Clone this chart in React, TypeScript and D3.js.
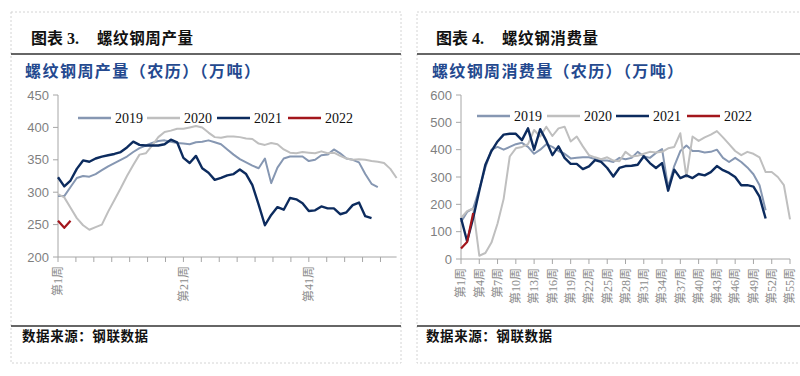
import React from "react";
import * as d3 from "d3";

// ---------- data ----------
const prodYears = ["2019", "2020", "2021", "2022"];
const prod2019 = [294,294,308,322,325,324,328,334,340,345,350,355,362,368,372,376,379,380,378,376,375,374,377,378,380,377,374,366,358,351,346,341,337,352,314,338,352,355,355,355,348,350,357,358,366,360,352,350,346,328,313,308];
const prod2020 = [297,292,276,260,249,242,246,250,270,288,306,325,342,358,360,372,385,393,395,398,398,400,402,400,392,385,384,386,386,385,383,382,375,373,376,374,366,361,360,362,361,360,363,360,361,356,352,350,351,350,348,347,345,336,322];
const prod2021 = [323,309,318,336,349,347,352,355,357,359,362,369,378,373,372,372,372,374,381,377,353,345,356,337,330,319,322,326,328,335,328,311,281,249,265,277,273,291,289,283,271,272,278,275,275,266,269,280,284,263,260];
const prod2022 = [256,245,256];

const cons2019 = [135,172,185,255,335,400,410,400,410,420,425,410,385,400,420,410,395,385,368,370,372,372,366,360,360,355,370,365,370,392,376,370,388,402,262,340,395,415,395,395,390,392,400,370,355,370,355,335,310,270,178];
const cons2020 = [150,175,185,12,22,60,130,220,375,405,410,420,472,448,484,450,478,484,430,448,412,380,372,365,372,360,358,392,375,378,385,392,390,392,405,410,460,300,448,432,445,455,468,445,420,395,380,392,385,372,318,318,300,270,145];
const cons2021 = [150,65,150,250,345,395,430,455,458,458,435,478,400,475,432,380,412,370,348,348,329,339,362,355,333,302,333,340,341,345,376,351,333,351,250,327,296,306,296,311,306,318,340,325,315,300,270,270,265,228,148];
const cons2022 = [38,62,168];

const prodYTicks = [200, 250, 300, 350, 400, 450];
const consYTicks = [0, 100, 200, 300, 400, 500, 600];
const prodXLabels = [1, 21, 41];
const consXLabels = d3.range(1, 56, 3);
const prodXTicks = d3.range(19).map((k) => 1 + (k * 20) / 7);

const seriesColors = ["#8697B2", "#BFBFBF", "#0C2B5E", "#A3161C"];
const seriesWidths = [2, 2, 2.4, 2.2];

const serif = "'Liberation Serif','Noto Sans CJK SC',serif";
const cjk = "'Noto Sans CJK SC','Liberation Serif',serif";
const sans = "'Liberation Sans',Arial,sans-serif";

type PanelProps = {
  left: number;
  right: number;
  titleNo: string;
  titleNoX: number;
  title: string;
  titleX: number;
  subtitle: string;
  subtitleX: number;
  subtitleW: number;
  sourceX: number;
  series: number[][];
  x: d3.ScaleLinear<number, number>;
  y: d3.ScaleLinear<number, number>;
  yTicks: number[];
  xTicks: number[];
  xLabels: number[];
  legendX: number[];
  legendY: number;
};

function Panel(p: PanelProps) {
  const [x0, x1] = p.x.range();
  const [y0, y1] = p.y.range();
  const line = (arr: number[]) =>
    d3
      .line<number>()
      .x((_, i) => p.x(i + 1))
      .y((d) => p.y(d))(arr) || "";
  const axisColor = "#A6A6A6";
  return (
    <g>
      {/* frame */}
      <rect x={p.left} y={12} width={p.right - p.left} height={351} fill="none" stroke="#D4D4D4" strokeDasharray="2,2" />
      {/* title */}
      <text x={p.titleNoX} y={44} fontFamily={serif} fontWeight="bold" fontSize={16} fill="#111">{p.titleNo}</text>
      <text x={p.titleX} y={44} fontFamily={cjk} fontWeight="bold" fontSize={15.5} fill="#111" textLength={96} lengthAdjust="spacing">{p.title}</text>
      <line x1={p.left} x2={p.right} y1={54} y2={54} stroke="#333" strokeWidth={1.5} />
      <text x={p.subtitleX} y={77} fontFamily={cjk} fontWeight="bold" fontSize={16} fill="#24498F" textLength={p.subtitleW} lengthAdjust="spacing">{p.subtitle}</text>
      {/* y axis */}
      <line x1={x0} x2={x0} y1={y1} y2={y0} stroke={axisColor} />
      {p.yTicks.map((t) => (
        <g key={"y" + t}>
          <line x1={x0 - 5} x2={x0} y1={p.y(t)} y2={p.y(t)} stroke={axisColor} />
          <text x={x0 - 9} y={p.y(t)} dy="0.36em" textAnchor="end" fontFamily={sans} fontSize={13} fill="#7F7F7F">{t}</text>
        </g>
      ))}
      {/* x axis */}
      <line x1={x0} x2={x1} y1={y0} y2={y0} stroke={axisColor} />
      {p.xTicks.map((t, i) => (
        <line key={"xt" + i} x1={p.x(t)} x2={p.x(t)} y1={y0} y2={y0 + 5} stroke={axisColor} />
      ))}
      {p.xLabels.map((t) => (
        <text key={"xl" + t} transform={`translate(${p.x(t)},${y0 + 9}) rotate(-90)`} dy="0.36em" textAnchor="end" fontFamily={serif} fontSize={12} fill="#8C8C8C">{`第${t}周`}</text>
      ))}
      {/* series */}
      {p.series.map((s, i) => (
        <path key={"s" + i} d={line(s)} fill="none" stroke={seriesColors[i]} strokeWidth={seriesWidths[i]} strokeLinejoin="round" />
      ))}
      {/* legend */}
      {prodYears.map((yr, i) => (
        <g key={"lg" + yr}>
          <line x1={p.legendX[i]} x2={p.legendX[i] + 33} y1={p.legendY} y2={p.legendY} stroke={seriesColors[i]} strokeWidth={2.5} />
          <text x={p.legendX[i] + 37} y={p.legendY} dy="0.35em" fontFamily={serif} fontSize={14} fill="#111">{yr}</text>
        </g>
      ))}
      {/* source */}
      <line x1={p.left} x2={p.right} y1={326} y2={326} stroke="#333" strokeWidth={1.5} />
      <text x={p.sourceX} y={341} fontFamily={cjk} fontWeight="bold" fontSize={13.5} fill="#111" textLength={126} lengthAdjust="spacing">数据来源：钢联数据</text>
    </g>
  );
}

export default function App() {
  const xL = d3.scaleLinear().domain([1, 55]).range([58, 396.6]);
  const yL = d3.scaleLinear().domain([200, 450]).range([257, 95]);
  const xR = d3.scaleLinear().domain([1, 55]).range([461, 790]);
  const yR = d3.scaleLinear().domain([0, 600]).range([259, 95]);
  return (
    <svg width={800} height={376} style={{ position: "absolute", left: 0, top: 0, background: "#fff" }}>
      <rect x={0} y={0} width={800} height={376} fill="#fff" />
      <Panel
        left={11}
        right={401}
        titleNo="图表 3."
        titleNoX={31}
        title="螺纹钢周产量"
        titleX={97}
        subtitle="螺纹钢周产量（农历）（万吨）"
        subtitleX={25}
        subtitleW={235}
        sourceX={22}
        series={[prod2019, prod2020, prod2021, prod2022]}
        x={xL}
        y={yL}
        yTicks={prodYTicks}
        xTicks={prodXTicks}
        xLabels={prodXLabels}
        legendX={[78, 147, 217, 288]}
        legendY={118}
      />
      <Panel
        left={417}
        right={812}
        titleNo="图表 4."
        titleNoX={436}
        title="螺纹钢消费量"
        titleX={502}
        subtitle="螺纹钢周消费量（农历）（万吨）"
        subtitleX={432}
        subtitleW={251}
        sourceX={426}
        series={[cons2019, cons2020, cons2021, cons2022]}
        x={xR}
        y={yR}
        yTicks={consYTicks}
        xTicks={consXLabels}
        xLabels={consXLabels}
        legendX={[477, 547, 616, 687]}
        legendY={116}
      />
    </svg>
  );
}
